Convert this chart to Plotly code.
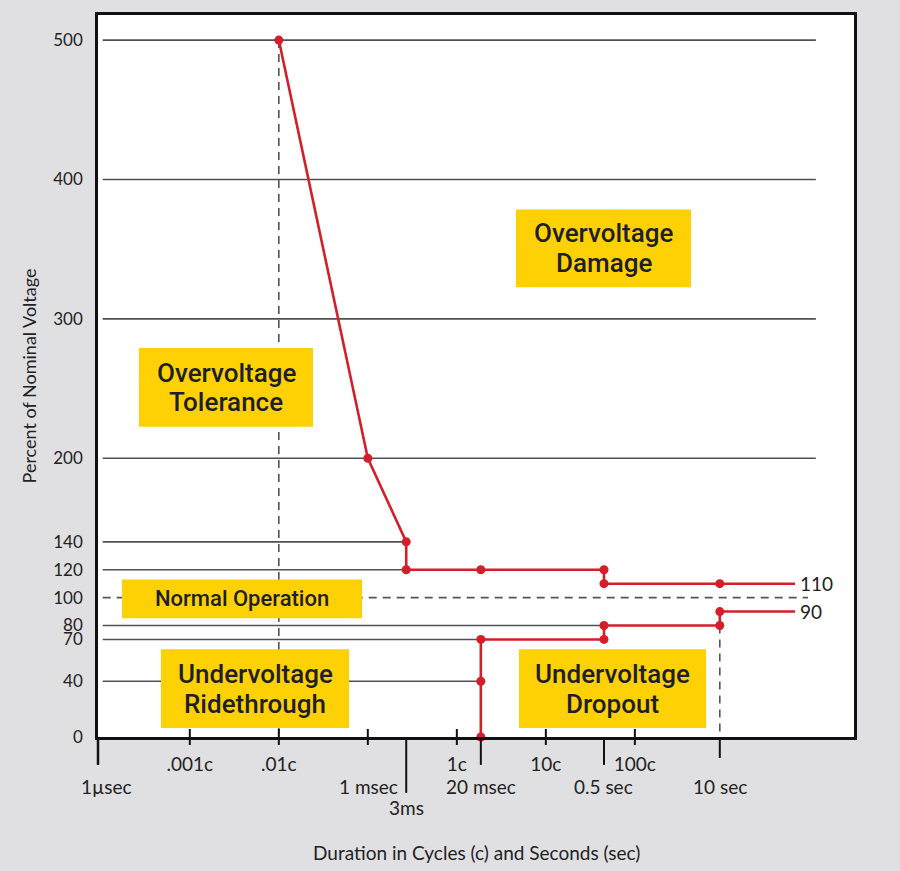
import math
import plotly.graph_objects as go

# x values are durations in cycles (60 Hz), placed as on the original schematic
CYCLE_TICKS = [0.001, 0.01, 0.1, 1, 10, 100]
CYCLE_LABELS = [".001c", ".01c", "", "1c", "10c", "100c"]
SEC_TICKS = [9.3e-5, 0.27, 1.86, 45, 900]
SEC_LABELS = ["1µsec", "1 msec", "20 msec", "0.5 sec", "10 sec"]
VOLT_TICKS = [0, 40, 70, 80, 100, 120, 140, 200, 300, 400, 500]

# upper (overvoltage) limit
OVER_X = [0.01, 0.1, 0.27, 0.27, 1.86, 45, 45, 900, 6300]
OVER_Y = [500, 200, 140, 120, 120, 120, 110, 110, 110]
# lower (undervoltage) limit
UNDER_X = [1.86, 1.86, 1.86, 45, 45, 900, 900, 6300]
UNDER_Y = [0, 40, 70, 70, 80, 80, 90, 90]
END_LABELS = ["110", "90"]

# reference lines
FULL_LEVELS = [200, 300, 400, 500]
SHORT_LEVELS = [140, 120, 80, 70, 40]
SHORT_ENDS = [0.27, 0.27, 45, 1.86, 1.86]
NOMINAL = 100

REGIONS = [
    ["Overvoltage", "Damage"],
    ["Overvoltage", "Tolerance"],
    ["Normal Operation"],
    ["Undervoltage", "Ridethrough"],
    ["Undervoltage", "Dropout"],
]

W, H = 900, 871
L, R, T, B = 98, 46, 13, 134
GRID_X0, GRID_X1 = 1.05e-4, 1.08e4
RED = "#d41f2b"
GRID = "#505050"
TXT = "#222222"
FONT = "Lato, Open Sans, sans-serif"
BOXFONT = "Roboto, Noto Sans, sans-serif"


def px(x):
    return (x - L) / (W - L - R)


def py(y):
    return (H - B - y) / (H - T - B)


fig = go.Figure()

# dashed reference lines
dash = dict(color="#555555", width=1.6, dash="8px,6px")
fig.add_trace(go.Scatter(x=[0.01, 0.01], y=[OVER_Y[0], 0], mode="lines", line=dash, hoverinfo="skip"))
fig.add_trace(go.Scatter(x=[900, 900], y=[80, 0], mode="lines", line=dash, hoverinfo="skip"))
fig.add_trace(go.Scatter(x=[GRID_X0, 8800], y=[NOMINAL, NOMINAL], mode="lines", line=dash, hoverinfo="skip"))

# red limit curves
for xs, ys in [(OVER_X, OVER_Y), (UNDER_X, UNDER_Y)]:
    fig.add_trace(go.Scatter(x=xs, y=ys, mode="lines", line=dict(color=RED, width=2.6),
                             hoverinfo="skip"))
    fig.add_trace(go.Scatter(x=xs[:-1], y=ys[:-1], mode="markers", cliponaxis=False,
                             marker=dict(color=RED, size=9), hoverinfo="skip"))

shapes = []
for lev in FULL_LEVELS:
    shapes.append(dict(type="line", xref="x", yref="y", x0=GRID_X0, x1=GRID_X1, y0=lev, y1=lev,
                       line=dict(color=GRID, width=1.6), layer="below"))
for lev, end in zip(SHORT_LEVELS, SHORT_ENDS):
    shapes.append(dict(type="line", xref="x", yref="y", x0=GRID_X0, x1=end, y0=lev, y1=lev,
                       line=dict(color=GRID, width=1.6), layer="below"))

# cycle ticks cross the axis
for v in CYCLE_TICKS:
    shapes.append(dict(type="line", xref="x", yref="paper", x0=v, x1=v, y0=py(745), y1=py(729),
                       line=dict(color="#111111", width=2)))
# second ticks hang below it
sec_len = [765, 793, 765, 765, 758]
for i, (v, yb) in enumerate(zip(SEC_TICKS, sec_len)):
    if i == 0:
        shapes.append(dict(type="line", xref="paper", yref="paper", x0=0, x1=0, y0=py(yb), y1=0,
                           line=dict(color="#111111", width=2.5)))
    else:
        shapes.append(dict(type="line", xref="x", yref="paper", x0=v, x1=v, y0=py(yb), y1=0,
                           line=dict(color="#111111", width=2)))

# yellow region boxes (pixel boxes from the original)
boxes = [(516, 691, 208, 286), (139, 313, 347, 426), (122, 362, 579, 618),
         (161, 349, 649, 728), (519, 706, 649, 728)]
for x0, x1, y0, y1 in boxes:
    shapes.append(dict(type="rect", xref="paper", yref="paper", x0=px(x0), x1=px(x1),
                       y0=py(y1), y1=py(y0), fillcolor="#fdd104", line=dict(width=0),
                       layer="above"))

annotations = []
for (x0, x1, y0, y1), lines in zip(boxes, REGIONS):
    cx, cy = (x0 + x1) / 2, (y0 + y1) / 2
    size = 22 if len(lines) == 1 else 26
    offs = [0] if len(lines) == 1 else [-15, 15]
    for line, off in zip(lines, offs):
        annotations.append(dict(xref="paper", yref="paper", x=px(cx), y=py(cy + off),
                                text=line, showarrow=False,
                                xanchor="center", yanchor="middle",
                                font=dict(family=BOXFONT, size=size, color="#1e1f2a",
                                          weight=500)))

# second labels under the axis (annotation x on a log axis is log10)
for i, (v, lab) in enumerate(zip(SEC_TICKS, SEC_LABELS)):
    a = dict(x=math.log10(v), xref="x", yref="paper", y=py(787), text=lab, showarrow=False,
             yanchor="middle", xanchor="center", font=dict(family=FONT, size=19, color=TXT))
    if i == 0:
        a.update(xref="paper", x=0, xshift=8)
    elif lab == "1 msec":
        a.update(xanchor="right", xshift=-6)
    annotations.append(a)
annotations.append(dict(x=math.log10(SEC_TICKS[1]), xref="x", yref="paper", y=py(808),
                        text="3ms", showarrow=False, yanchor="middle", xanchor="center",
                        font=dict(family=FONT, size=19, color=TXT)))

for lab, lev in zip(END_LABELS, [OVER_Y[-1], UNDER_Y[-1]]):
    annotations.append(dict(x=math.log10(OVER_X[-1]), y=lev, xref="x", yref="y", text=lab,
                            showarrow=False, xanchor="left", yanchor="middle", xshift=3,
                            font=dict(family=FONT, size=19, color=TXT)))

annotations.append(dict(xref="paper", yref="paper", x=px(477), y=py(853),
                        text="Duration in Cycles (c) and Seconds (sec)", showarrow=False,
                        xanchor="center", yanchor="middle",
                        font=dict(family=FONT, size=19, color=TXT)))

fig.update_layout(
    width=W, height=H,
    margin=dict(l=L, r=R, t=T, b=B),
    paper_bgcolor="#e0e0e2",
    plot_bgcolor="white",
    showlegend=False,
    shapes=shapes,
    annotations=annotations,
    font=dict(family=FONT, size=19, color=TXT),
)
fig.update_xaxes(
    type="log", range=[-4.0315, 4.462],
    tickvals=CYCLE_TICKS, ticktext=CYCLE_LABELS,
    ticks="", ticklabelstandoff=8,
    showgrid=False, zeroline=False,
    showline=True, mirror=True, linecolor="#111111", linewidth=2.5,
)
fig.update_yaxes(
    range=[0, 518], tickvals=VOLT_TICKS, tickfont=dict(size=17),
    ticks="", ticklabelstandoff=9,
    showgrid=False, zeroline=False,
    showline=True, mirror=True, linecolor="#111111", linewidth=2.5,
    title=dict(text="Percent of Nominal Voltage", font=dict(size=18), standoff=12),
)

fig.write_html("out.html", config={"displayModeBar": False},
               post_script="document.body.style.margin='0px';")
